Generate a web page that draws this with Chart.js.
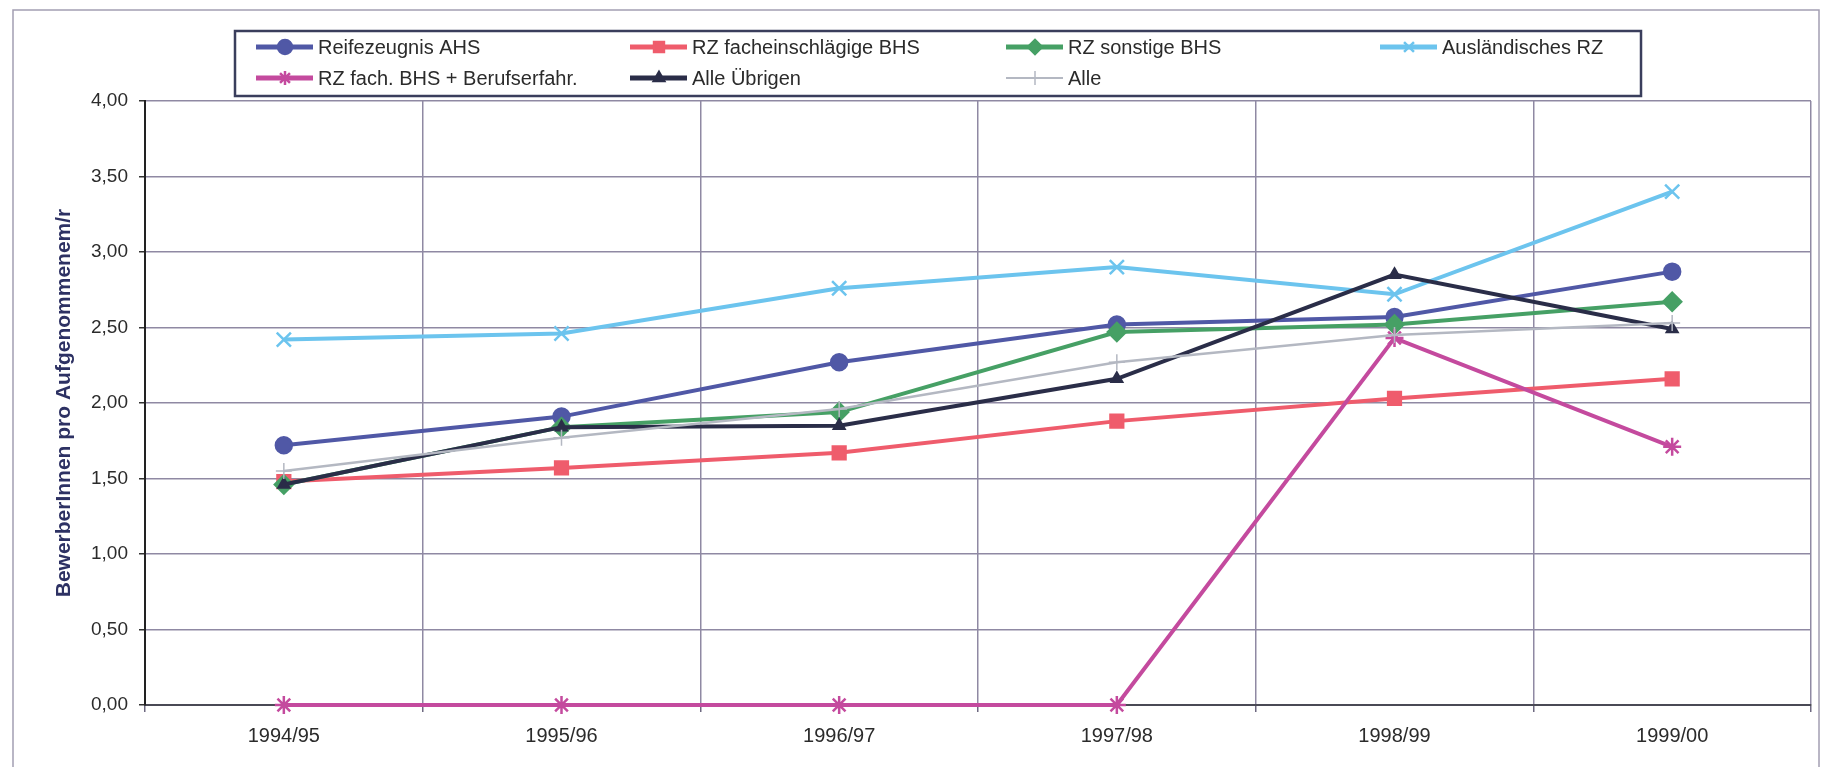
<!DOCTYPE html>
<html>
<head>
<meta charset="utf-8">
<script src="https://cdn.jsdelivr.net/npm/chart.js@4.4.1/dist/chart.umd.min.js"></script>
<style>
html, body { margin: 0; padding: 0; background: #fff; overflow: hidden; }
#wrap { position: relative; width: 1825px; height: 767px; }
</style>
</head>
<body>
<div id="wrap"><canvas id="chart" width="1825" height="767"></canvas></div>
<script>
// Daten
const years = ['1994/95', '1995/96', '1996/97', '1997/98', '1998/99', '1999/00'];
const ahs = [1.72, 1.91, 2.27, 2.52, 2.57, 2.87];
const fachBhs = [1.48, 1.57, 1.67, 1.88, 2.03, 2.16];
const sonstBhs = [1.46, 1.84, 1.94, 2.47, 2.52, 2.67];
const auslRz = [2.42, 2.46, 2.76, 2.90, 2.72, 3.40];
const berufErf = [0, 0, 0, 0, 2.43, 1.71];
const uebrige = [1.46, 1.84, 1.85, 2.16, 2.85, 2.49];
const alle = [1.55, 1.77, 1.96, 2.27, 2.45, 2.53];
const yTickLabels = ['0,00', '0,50', '1,00', '1,50', '2,00', '2,50', '3,00', '3,50', '4,00'];

const FONT = "'Liberation Sans', Arial, sans-serif";

function serie(label, data, color, style, radius, extra) {
    return Object.assign({
        label: label,
        data: data,
        borderColor: color,
        backgroundColor: color,
        borderWidth: 4,
        pointStyle: style,
        pointRadius: radius,
        pointHoverRadius: radius,
        pointBorderWidth: 2.5,
        pointBackgroundColor: color,
        pointBorderColor: color,
        tension: 0,
        clip: 12
    }, extra || {});
}

const datasets = [
    serie('Reifezeugnis AHS', ahs, '#5058a6', 'circle', 8, { order: 6 }),
    serie('RZ facheinschlägige BHS', fachBhs, '#ef5c6c', 'rect', 9, { order: 5 }),
    serie('RZ sonstige BHS', sonstBhs, '#46a065', 'rectRot', 9, { order: 4 }),
    serie('Ausländisches RZ', auslRz, '#6cc4ee', 'crossRot', 10, { order: 3 }),
    serie('RZ fach. BHS + Berufserfahr.', berufErf, '#c44a9e', 'star', 9, { order: 2 }),
    serie('Alle Übrigen', uebrige, '#2a2d48', 'triangle', 6, { order: 1 }),
    serie('Alle', alle, '#b4b8c2', 'cross', 8, { order: 0, borderWidth: 2.5, pointBorderWidth: 1.5 })
];

// Rahmen um das ganze Diagramm
const frame = {
    id: 'frame',
    beforeDraw(chart) {
        const ctx = chart.ctx;
        ctx.save();
        ctx.fillStyle = '#fff';
        ctx.fillRect(0, 0, chart.width, chart.height);
        ctx.strokeStyle = '#a39eb2';
        ctx.lineWidth = 1.5;
        ctx.strokeRect(13, 10, 1806, 800);
        ctx.restore();
    }
};

// Legende im Excel-Raster (4 Spalten, 2 Zeilen)
const legendCols = [318, 692, 1068, 1442];
const legendRows = [47, 78];
const gridLegend = {
    id: 'gridLegend',
    afterDraw(chart) {
        const ctx = chart.ctx;
        ctx.save();
        ctx.fillStyle = '#fff';
        ctx.fillRect(235, 31, 1406, 65);
        ctx.strokeStyle = '#3a3e5c';
        ctx.lineWidth = 2.5;
        ctx.strokeRect(235, 31, 1406, 65);
        ctx.font = '20px ' + FONT;
        ctx.textBaseline = 'middle';
        chart.data.datasets.forEach((ds, i) => {
            const x = legendCols[i % 4];
            const y = legendRows[Math.floor(i / 4)];
            ctx.strokeStyle = ds.borderColor;
            ctx.lineWidth = ds.borderWidth > 3 ? 5 : 2;
            ctx.beginPath();
            ctx.moveTo(x - 62, y);
            ctx.lineTo(x - 5, y);
            ctx.stroke();
            ctx.fillStyle = ds.pointBackgroundColor;
            ctx.strokeStyle = ds.pointBorderColor;
            ctx.lineWidth = ds.pointBorderWidth;
            Chart.helpers.drawPoint(ctx, {
                pointStyle: ds.pointStyle,
                radius: Math.min(ds.pointRadius, 7),
                rotation: 0,
                borderWidth: ds.pointBorderWidth
            }, x - 33, y);
            ctx.fillStyle = '#2b2b2b';
            ctx.fillText(ds.label, x, y + 1);
        });
        ctx.restore();
    }
};

new Chart(document.getElementById('chart'), {
    type: 'line',
    data: { labels: years, datasets: datasets },
    plugins: [frame, gridLegend],
    options: {
        responsive: false,
        animation: false,
        devicePixelRatio: 1,
        layout: { padding: { top: 101, right: 14, bottom: 0, left: 0 } },
        plugins: {
            legend: { display: false },
            tooltip: { enabled: false }
        },
        scales: {
            x: {
                type: 'category',
                offset: true,
                grid: {
                    offset: true,
                    color: '#8f89a3',
                    lineWidth: 1.5,
                    tickLength: 7,
                    tickColor: '#6d6880'
                },
                border: { color: '#4a4a55', width: 2 },
                ticks: {
                    color: '#2b2b2b',
                    font: { family: FONT, size: 20 },
                    padding: 12,
                    maxRotation: 0,
                    autoSkip: false
                },
                afterFit(scale) { scale.height = 62; }
            },
            y: {
                min: 0,
                max: 4,
                grid: {
                    color: '#8f89a3',
                    lineWidth: 1.5,
                    tickLength: 6,
                    tickColor: '#333'
                },
                border: { color: '#222', width: 2 },
                ticks: {
                    stepSize: 0.5,
                    color: '#2b2b2b',
                    font: { family: FONT, size: 19 },
                    padding: 11,
                    callback: (v, i) => yTickLabels[i]
                },
                title: {
                    display: true,
                    text: 'BewerberInnen pro Aufgenommenem/r',
                    color: '#2d3163',
                    font: { family: FONT, size: 21, weight: 'bold' },
                    padding: { top: 52, bottom: 0 }
                },
                afterFit(scale) { scale.width = 145; }
            }
        }
    }
});
</script>
</body>
</html>
